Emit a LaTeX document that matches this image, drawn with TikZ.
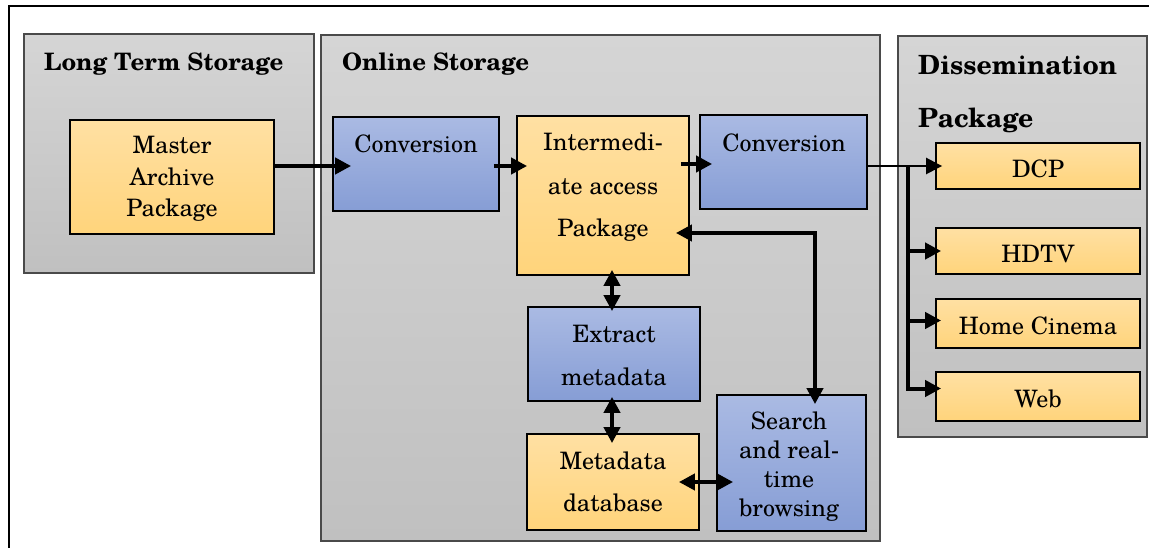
\documentclass[tikz,border=0pt]{standalone}
\usepackage{fontspec}
\setmainfont{texgyreschola}[Extension=.otf, UprightFont=*-regular, BoldFont=*-bold]
\usetikzlibrary{arrows.meta,calc}

\definecolor{grpTop}{HTML}{D5D5D5}
\definecolor{grpBot}{HTML}{C0C0C0}
\definecolor{grpLine}{HTML}{4A4A4A}
\definecolor{goldTop}{HTML}{FFE0A3}
\definecolor{goldBot}{HTML}{FFD47B}
\definecolor{blueTop}{HTML}{AABAE3}
\definecolor{blueBot}{HTML}{869DD5}

\tikzset{
  group/.style={draw=grpLine, line width=1.6pt, top color=grpTop, bottom color=grpBot, inner sep=0pt},
  goldbox/.style={draw=black, line width=1.8pt, top color=goldTop, bottom color=goldBot, inner sep=0pt},
  bluebox/.style={draw=black, line width=1.8pt, top color=blueTop, bottom color=blueBot, inner sep=0pt},
  grouptitle/.style={font=\fontsize{#1}{53}\selectfont\bfseries, anchor=base west, inner sep=0pt, align=left},
  grouptitle/.default=24,
  caption/.style={font=\fontsize{24}{#1}\selectfont, anchor=base, inner sep=0pt, align=center},
  caption/.default=31,
  tip/.tip={Triangle[length=16pt,width=16pt]},
  flow/.style={line width=4pt, -tip},
  feed/.style={line width=2.5pt, -tip},
  twoway/.style={line width=4pt, tip-tip},
}

\begin{document}
\begin{tikzpicture}[x=1pt, y=-1pt]
\useasboundingbox (0,0) rectangle (1149,548);
\fill[white] (0,0) rectangle (1149,548);

% outer frame
\draw[line width=2.5pt] (9,560) -- (9,6) -- (1160,6);

% group panels
\node[group, minimum width=290pt, minimum height=239pt] (lts) at (169,153.5) {};
\node[group, minimum width=559pt, minimum height=506pt] (ons) at (600.5,288) {};
\node[group, minimum width=249pt, minimum height=401pt] (dis) at (1022.5,236.5) {};

% titles (multi-line nodes sit on the baseline of their last line)
\node[grouptitle] (ltsT) at (44,71) {Long Term Storage};
\node[grouptitle] (onsT) at (342,71) {Online Storage};
\node[grouptitle=26.5] (disT) at (918,128) {Dissemination\\Package};

% process boxes
\node[goldbox, minimum width=204pt, minimum height=114pt] (master) at (172,177) {};
\node[bluebox, minimum width=166pt, minimum height=94pt] (conv1) at (416,164) {};
\node[goldbox, minimum width=172pt, minimum height=159pt] (inter) at (603,195.5) {};
\node[bluebox, minimum width=167pt, minimum height=94pt] (conv2) at (783.5,162) {};
\node[goldbox, minimum width=204pt, minimum height=46pt] (dcp) at (1038,166) {};
\node[goldbox, minimum width=204pt, minimum height=46pt] (hdtv) at (1038,251) {};
\node[goldbox, minimum width=204pt, minimum height=49pt] (home) at (1038,323.5) {};
\node[goldbox, minimum width=204pt, minimum height=49pt] (web) at (1038,396.5) {};
\node[bluebox, minimum width=172pt, minimum height=94pt] (extract) at (614,354) {};
\node[goldbox, minimum width=172pt, minimum height=96pt] (db) at (613,482) {};
\node[bluebox, minimum width=149pt, minimum height=136pt] (search) at (791.5,463) {};

% box captions
\node[caption=31.5] (masterT) at (172,217) {Master\\Archive\\Package};
\node[caption] (conv1T) at (416,153) {Conversion};
\node[caption=43] (interT) at (603,237) {Intermedi-\\ate access\\Package};
\node[caption] (conv2T) at (784,152) {Conversion};
\node[caption] (dcpT) at (1038,178) {DCP};
\node[caption] (hdtvT) at (1038,263) {HDTV};
\node[caption] (homeT) at (1038,334) {Home Cinema};
\node[caption] (webT) at (1038,407) {Web};
\node[caption=43] (extractT) at (614,385) {Extract\\metadata};
\node[caption=42] (dbT) at (613,511) {Metadata\\database};
\node[caption=28.7] (searchT) at (789,516) {Search\\and real-\\time\\browsing};

% main flow
\draw[flow, shorten >=-19pt] ($(master.east |- conv1.west)+(0,2)$) -- ($(conv1.west)+(0,2)$);
\draw[flow, shorten <=-6pt, shorten >=-11pt] ($(conv1.east)+(0,2)$) -- ($(conv1.east -| inter.west)+(0,2)$);
\draw[flow, shorten <=-9pt, shorten >=-13pt] ($(inter.east |- conv2.west)+(0,2)$) -- ($(conv2.west)+(0,2)$);

% distribution to the dissemination packages
\coordinate (bus) at (908,166);
\draw[feed, shorten >=-7pt] (conv2.east |- dcp.west) -- (dcp.west);
\draw[flow, shorten >=-6pt] (bus) |- ($(web.west)+(0,-8)$);
\draw[flow, shorten >=-6pt] (bus |- hdtv.west) -- (hdtv.west);
\draw[flow, shorten >=-6pt] ($(bus |- home.west)+(0,-3)$) -- ($(home.west)+(0,-3)$);

% metadata and browsing links
\coordinate (bend) at (815,233);
\draw[twoway, shorten <=-14pt, shorten >=-10pt] (inter.east |- bend) -- (bend) -- (bend |- search.north);
\draw[twoway, shorten <=-6pt, shorten >=-5pt] ($(extract.north |- inter.south)+(-2,0)$) -- ($(extract.north)+(-2,0)$);
\draw[twoway, shorten <=-5pt, shorten >=-10pt] ($(extract.south)+(-2,0)$) -- ($(extract.south |- db.north)+(-2,0)$);
\draw[twoway, shorten <=-21pt, shorten >=-17pt] (db.east) -- (db.east -| search.west);
\end{tikzpicture}
\end{document}
